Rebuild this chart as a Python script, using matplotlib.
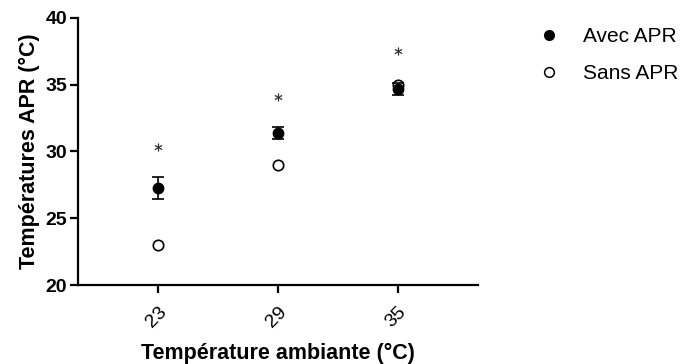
import matplotlib.pyplot as plt
from matplotlib.lines import Line2D

plt.rcParams['font.family'] = ['Liberation Sans', 'DejaVu Sans']

# data
categories = ['23', '29', '35']
avec = [27.27, 31.35, 34.7]
avec_err = [0.8, 0.45, 0.45]
sans = [23.0, 29.0, 35.0]
stars_y = [30.3, 34.1, 37.55]

fig = plt.figure(figsize=(6.85, 3.64), dpi=100)
ax = fig.add_axes([0.114, 0.217, 0.584, 0.734])

x = range(len(categories))
ax.errorbar(x, avec, yerr=avec_err, fmt='o', color='black', ms=7.5,
            capsize=4, elinewidth=1.2, capthick=1.2, zorder=3)
ax.plot(x, sans, 'o', mfc='white', mec='black', mew=1.2, ms=7.5, zorder=2)
# significance stars
ax.plot(x, stars_y, ls='none', marker='$*$', color='#222222', ms=5.5, mew=0.2)

ax.set_xlim(-0.67, 2.67)
ax.set_ylim(20, 40)
ax.set_yticks([20, 25, 30, 35, 40])
ax.set_xticks(list(x))
ax.set_xticklabels(categories, rotation=45, fontsize=14,
                   ha='right', rotation_mode='anchor')
for lab in ax.get_yticklabels():
    lab.set_fontweight('bold')
    lab.set_fontsize(14)

for s in ['top', 'right']:
    ax.spines[s].set_visible(False)
for s in ['left', 'bottom']:
    ax.spines[s].set_linewidth(1.6)
ax.tick_params(width=1.6, length=6)
ax.tick_params(axis='x', pad=7)
ax.tick_params(axis='y', pad=2)

ax.set_ylabel('Températures APR (°C)', fontsize=15.5, fontweight='bold')
ax.set_xlabel('Température ambiante (°C)', fontsize=15.5, fontweight='bold', labelpad=9)

handles = [Line2D([], [], ls='none', marker='o', color='black', ms=7),
           Line2D([], [], ls='none', marker='o', mfc='white', mec='black', mew=1.1, ms=7)]
ax.legend(handles, ['Avec APR', 'Sans APR'], loc='upper left',
          bbox_to_anchor=(1.105, 1.035), frameon=False, fontsize=15,
          handletextpad=1.1, labelspacing=0.85, handlelength=1.0)

fig.savefig('out.png', dpi=100)
